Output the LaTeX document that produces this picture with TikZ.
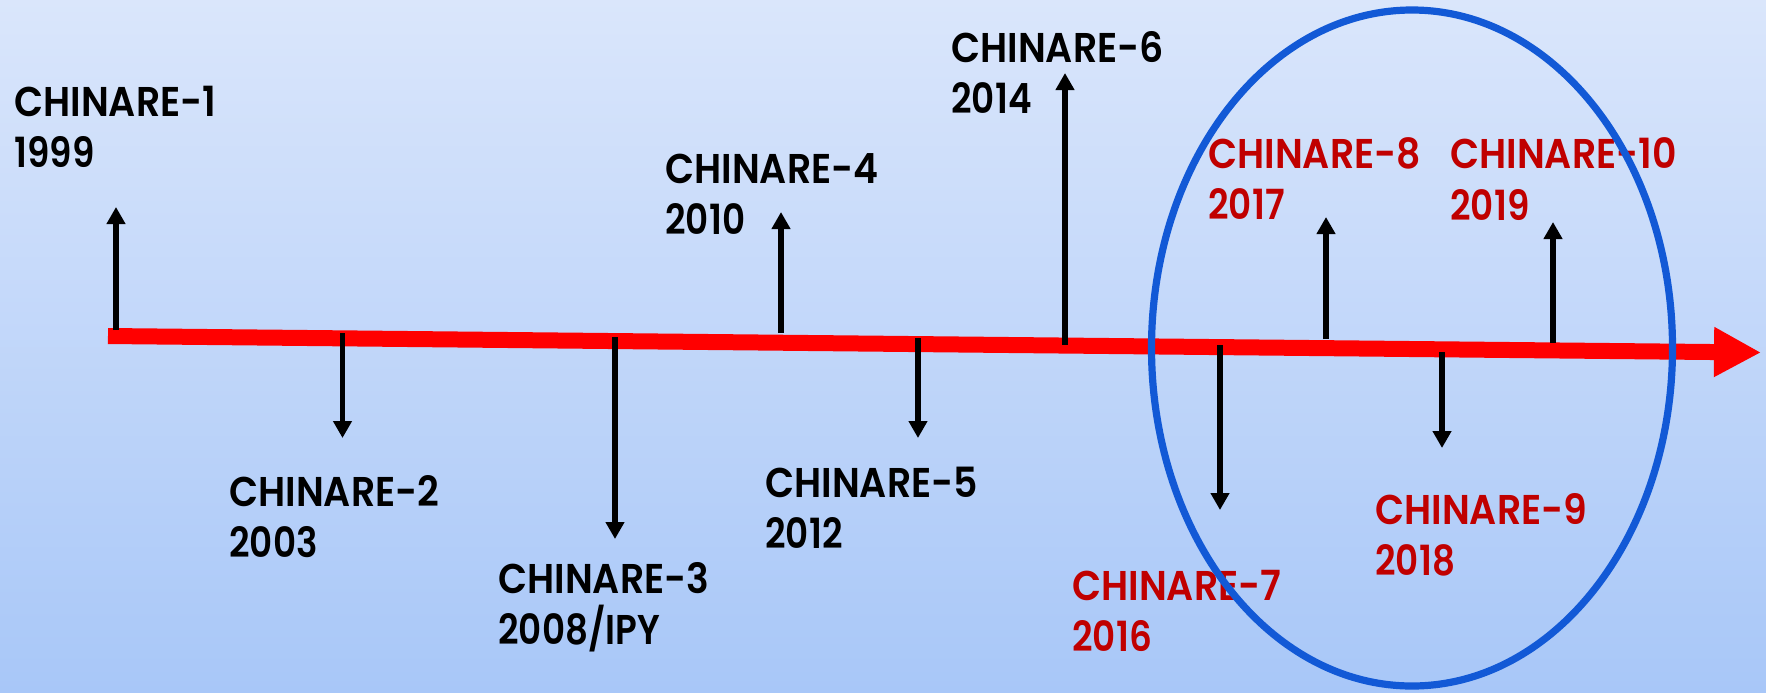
\documentclass[tikz,border=0pt]{standalone}
\usepackage{fontspec}
\setmainfont{Poppins SemiBold}[FakeStretch=0.91]
\newfontfamily\yearfont{Poppins SemiBold}[FakeStretch=0.86]
\usetikzlibrary{arrows.meta,shapes.geometric}
\definecolor{bgtop}{RGB}{218,230,251}
\definecolor{bgbot}{RGB}{168,199,248}
\definecolor{timered}{RGB}{255,0,0}
\definecolor{labred}{RGB}{192,0,0}
\definecolor{ringblue}{RGB}{18,89,214}
\begin{document}
\begin{tikzpicture}[x=0.5pt,y=-0.5pt,
  lab/.style={anchor=base west, inner sep=0pt, font=\fontsize{20.8pt}{25pt}\selectfont},
  yr/.style={lab, font=\yearfont\fontsize{20.8pt}{25pt}\selectfont},
  past/.style={lab, text=black},
  recent/.style={lab, text=labred},
  pastyr/.style={yr, text=black},
  recentyr/.style={yr, text=labred},
  evarrow/.style={draw=black, line width=2.7pt, -{Triangle[length=8.5pt,width=9pt]}},
  timeline/.style={draw=timered, line width=8pt, -{Triangle[length=23.5pt,width=23.5pt]}},
  ring/.style={draw=ringblue, line width=3.6pt, ellipse, inner sep=0pt,
    minimum width=260.5pt, minimum height=338pt}]
\useasboundingbox (0,0) rectangle (1766,692);
\fill[top color=bgtop, bottom color=bgbot] (0,0) rectangle (1766,692);

% timeline
\coordinate (tlstart) at (108,336);
\coordinate (tlend) at (1761,352.5);
\draw[timeline] (tlstart) -- (tlend);

% event arrows: start on timeline, tip
\coordinate (s1) at (116,330);   \coordinate (t1) at (116,207);
\coordinate (s2) at (342.5,333); \coordinate (t2) at (342.5,438);
\coordinate (s3) at (615,337);   \coordinate (t3) at (615,539);
\coordinate (s4) at (781,333);   \coordinate (t4) at (781,212);
\coordinate (s5) at (918,338);   \coordinate (t5) at (918,438);
\coordinate (s6) at (1065,345);  \coordinate (t6) at (1065,73);
\coordinate (s7) at (1220,345);  \coordinate (t7) at (1220,510);
\coordinate (s8) at (1326,339);  \coordinate (t8) at (1326,217);
\coordinate (s9) at (1442,352);  \coordinate (t9) at (1442,448);
\coordinate (s10) at (1553,343); \coordinate (t10) at (1553,222);
\foreach \i in {1,...,10} {\draw[evarrow] (s\i) -- (t\i);}

% labels
\node[past] (n1) at (14,116) {CHINARE-1};
\node[pastyr] (y1) at (14,167) {1999};
\node[past] (n2) at (229,506) {CHINARE-2};
\node[pastyr] (y2) at (229,557) {2003};
\node[past] (n3) at (498,593) {CHINARE-3};
\node[pastyr] (y3) at (498,644) {2008/IPY};
\node[past] (n4) at (665,183) {CHINARE-4};
\node[pastyr] (y4) at (665,234) {2010};
\node[past] (n5) at (765,497) {CHINARE-5};
\node[pastyr] (y5) at (765,548) {2012};
\node[past] (n6) at (951,62) {CHINARE-6};
\node[pastyr] (y6) at (951,113) {2014};
\node[recent] (n7) at (1072,600) {CHINARE-7};
\node[recentyr] (y7) at (1072,651) {2016};
\node[recent] (n8) at (1208,168) {CHINARE-8};
\node[recentyr] (y8) at (1208,219) {2017};
\node[recent] (n9) at (1375,524) {CHINARE-9};
\node[recentyr] (y9) at (1375,575) {2018};
\node[recent] (n10) at (1450,168) {CHINARE-10};
\node[recentyr] (y10) at (1450,220) {2019};

% highlight ring
\node[ring] (ring) at (1412,348) {};
\end{tikzpicture}
\end{document}
